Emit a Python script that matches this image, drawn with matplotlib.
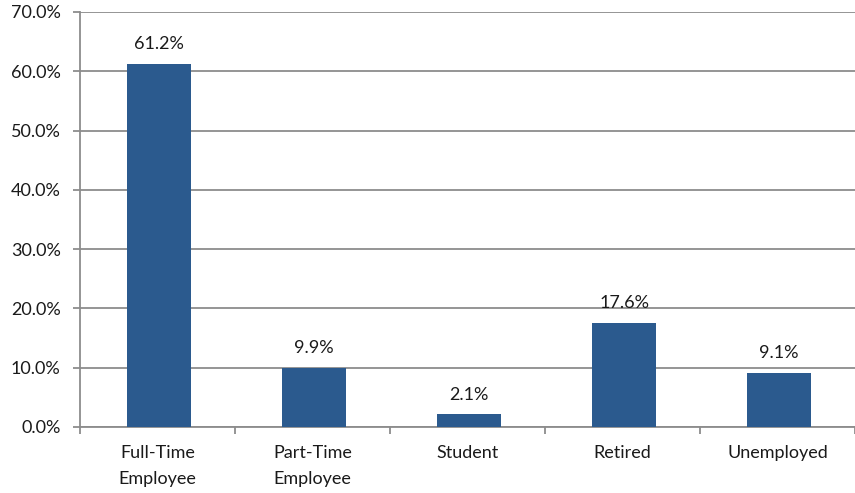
import numpy as np
import matplotlib.pyplot as plt
from matplotlib.ticker import FixedLocator

categories = ["Full-Time\nEmployee", "Part-Time\nEmployee", "Student", "Retired", "Unemployed"]
values = [61.2, 9.9, 2.1, 17.6, 9.1]
yticks = [0, 10, 20, 30, 40, 50, 60, 70]

plt.rcParams['font.family'] = ['Lato', 'DejaVu Sans']

fig = plt.figure(figsize=(8.55, 4.93), dpi=100)
ax = fig.add_axes([0.0936, 0.134, 0.9064, 0.8417])

x = np.arange(len(categories))
bars = ax.bar(x + 0.01, values, width=0.41, color='#2B5A8E', zorder=3)

for xi, v in zip(x, values):
    ax.text(xi + 0.01, v + 2.0, f"{v:.1f}%", ha='center', va='bottom', fontsize=13, color='#1a1a1a')

ax.set_xlim(-0.5, len(categories) - 0.5)
ax.set_ylim(0, 70)
ax.set_yticks(yticks)
ax.set_yticklabels([f"{t:.1f}%" for t in yticks], fontsize=13, color='#1a1a1a')
ax.yaxis.grid(True, color='#8c8c8c', linewidth=1.3, zorder=0)
ax.tick_params(axis='y', length=5, width=1.3, color='#8c8c8c', pad=9)

# category labels at centers, tick marks at the boundaries
ax.set_xticks(x)
ax.set_xticklabels(categories, fontsize=13, color='#1a1a1a', linespacing=1.75)
ax.tick_params(axis='x', which='major', length=0, pad=13)
ax.xaxis.set_minor_locator(FixedLocator(np.arange(len(categories) + 1) - 0.5))
ax.tick_params(axis='x', which='minor', length=5, width=1.3, color='#8c8c8c')

for side in ['top', 'right']:
    ax.spines[side].set_visible(False)
for side in ['left', 'bottom']:
    ax.spines[side].set_color('#8c8c8c')
    ax.spines[side].set_linewidth(1.3)

fig.savefig('out.png', dpi=100)
